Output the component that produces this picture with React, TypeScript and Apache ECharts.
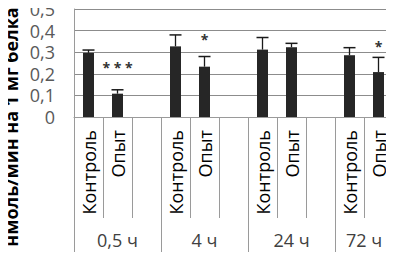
import React, { useEffect, useRef } from "react";
import * as echarts from "echarts";

const categories = ["Контроль", "Опыт", "", "Контроль", "Опыт", "", "Контроль", "Опыт", "", "Контроль", "Опыт"];
const groupLabels = ["", "0,5 ч", "", "", "4 ч", "", "", "24 ч", "", "72 ч", ""];
const groupStarts = [0, 3, 6, 9];
const means = [0.297, 0.108, null, 0.327, 0.233, null, 0.312, 0.323, null, 0.286, 0.208];
const errTops = [0.31, 0.126, null, 0.38, 0.28, null, 0.368, 0.341, null, 0.321, 0.276];
const stars = ["", "* * *", "", "", "*", "", "", "", "", "", "*"];
const starValues = [null, 0.227, null, null, 0.359, null, null, null, null, null, 0.327];
const yTicks = { min: 0, max: 0.5, interval: 0.1 };
const yTitle = "нмоль/мин на 1 мг белка";

const FONT = "Open Sans";

export default function App() {
  const ref = useRef<HTMLDivElement>(null);
  useEffect(() => {
    const chart = echarts.init(ref.current!, null, { renderer: "svg" });
    const errData = means.map((m, i) => (m == null ? [i, "-", "-"] : [i, m, errTops[i]]));
    const starData = stars.map((s, i) => [i, starValues[i] == null ? "-" : starValues[i], s]);
    chart.setOption({
      animation: false,
      grid: { left: 74, right: 1, top: 7, bottom: 143, containLabel: false },
      xAxis: [
        {
          type: "category",
          data: categories,
          position: "bottom",
          axisLine: { show: true, lineStyle: { color: "#9a9a9a", width: 1 } },
          axisTick: { show: true, interval: 0, length: 101, lineStyle: { color: "#9a9a9a" } },
          axisLabel: {
            interval: 0,
            rotate: 90,
            margin: 13,
            fontFamily: FONT,
            fontSize: 18,
            color: "#000",
          },
        },
        {
          type: "category",
          data: groupLabels.map((g, i) =>
            i === 9 ? { value: g, textStyle: { padding: [0, 0, 0, 29] } } : g
          ),
          position: "bottom",
          axisLine: { show: false },
          axisTick: {
            show: true,
            interval: (idx: number) => groupStarts.includes(idx),
            length: 143,
            lineStyle: { color: "#9a9a9a" },
          },
          axisLabel: {
            interval: 0,
            margin: 114,
            fontFamily: FONT,
            fontSize: 18,
            color: "#404040",
          },
        },
      ],
      yAxis: {
        type: "value",
        min: yTicks.min,
        max: yTicks.max,
        interval: yTicks.interval,
        axisLine: { show: true, lineStyle: { color: "#9a9a9a" } },
        axisTick: { show: false },
        splitLine: { lineStyle: { color: "#8c8c8c", width: 1 } },
        axisLabel: {
          margin: 19,
          fontFamily: FONT,
          fontSize: 18,
          color: "#595959",
          formatter: (v: number) => String(Math.round(v * 10) / 10).replace(".", ","),
        },
      },
      graphic: [
        {
          type: "text",
          x: 11,
          y: 127,
          rotation: Math.PI / 2,
          style: {
            text: yTitle,
            fontFamily: FONT,
            fontWeight: "bold",
            fontSize: 18,
            fill: "#000",
            textAlign: "center",
            textVerticalAlign: "middle",
          },
        },
      ],
      series: [
        {
          type: "bar",
          data: means.map((m) => (m == null ? "-" : m)),
          barWidth: 11,
          itemStyle: { color: "#262626" },
        },
        {
          type: "custom",
          data: errData,
          renderItem: (params: any, api: any) => {
            const v = api.value(1);
            if (typeof v !== "number" || isNaN(v)) return null;
            const base = api.coord([api.value(0), v]);
            const top = api.coord([api.value(0), api.value(2)]);
            const half = 6;
            return {
              type: "group",
              children: [
                {
                  type: "line",
                  shape: { x1: base[0], y1: base[1], x2: top[0], y2: top[1] },
                  style: { stroke: "#1a1a1a", lineWidth: 1.3 },
                },
                {
                  type: "line",
                  shape: { x1: top[0] - half, y1: top[1], x2: top[0] + half, y2: top[1] },
                  style: { stroke: "#1a1a1a", lineWidth: 1.5 },
                },
              ],
            };
          },
          z: 3,
        },
        {
          type: "custom",
          data: starData,
          renderItem: (params: any, api: any) => {
            const v = api.value(1);
            if (typeof v !== "number" || isNaN(v)) return null;
            const p = api.coord([api.value(0), v]);
            return {
              type: "text",
              x: p[0],
              y: p[1],
              style: {
                text: stars[params.dataIndex],
                fontFamily: FONT,
                fontSize: 14,
                fontWeight: "bold",
                fill: "#333",
                textAlign: "center",
                textVerticalAlign: "middle",
              },
            };
          },
          z: 4,
        },
      ],
    });
    return () => chart.dispose();
  }, []);
  return <div ref={ref} style={{ width: 394, height: 260, margin: -8 }} />;
}
